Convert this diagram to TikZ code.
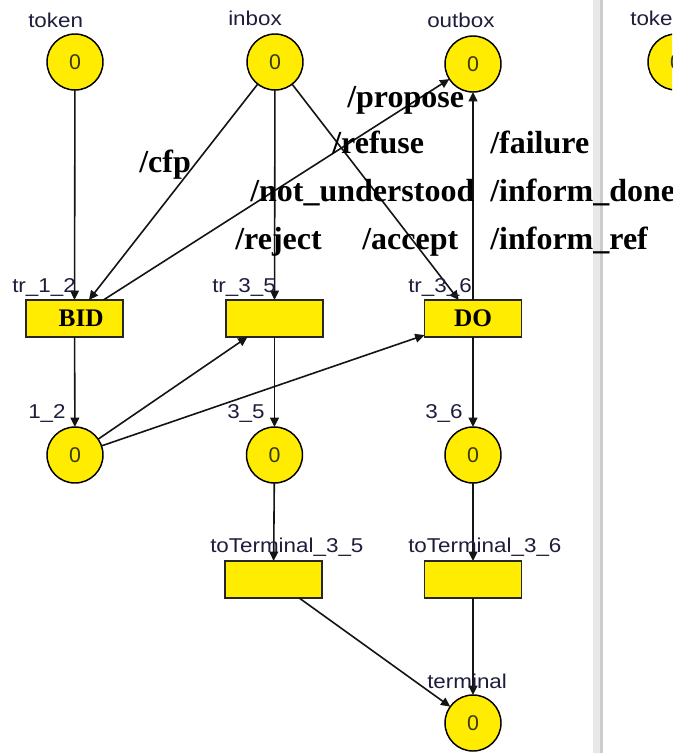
\documentclass[tikz,border=0pt]{standalone}
\usepackage{fontspec}
\setmainfont{Liberation Serif}
\newfontfamily\lblfont[FakeStretch=1.12]{Liberation Sans}
\newfontfamily\tokfont{Liberation Sans}
\usetikzlibrary{arrows.meta}
\definecolor{pnyellow}{RGB}{255,236,0}
\definecolor{lblcol}{RGB}{30,30,60}
\definecolor{tokcol}{RGB}{55,60,10}
\definecolor{arccol}{RGB}{20,20,20}
\begin{document}
\begin{tikzpicture}[x=0.75pt,y=-0.75pt,
  pnplace/.style={circle,draw=black,line width=1.1pt,fill=pnyellow,minimum size=42pt,inner sep=0pt,outer sep=0pt,font=\tokfont\fontsize{16}{16}\selectfont,text=tokcol},
  pntrans/.style={rectangle,draw=black!85,line width=1pt,fill=pnyellow,minimum width=72.75pt,minimum height=27.75pt,inner sep=0pt,outer sep=0pt,font=\bfseries\fontsize{19}{19}\selectfont},
  lbl/.style={anchor=base west,inner sep=0pt,font=\lblfont\fontsize{15}{15}\selectfont,text=lblcol},
  act/.style={anchor=base west,inner sep=0pt,font=\bfseries\fontsize{24}{24}\selectfont},
  pnarc/.style={draw=arccol,line width=1.2pt,-{Triangle[length=7pt,width=6.5pt]}}
]
\clip (0,0) rectangle (672,753);
\fill[white] (0,0) rectangle (672,753);
\fill[gray!18] (593,0) rectangle (600,753);
\fill[gray!40] (600,0) rectangle (603,753);

% places and transitions
\node[pnplace] (token) at (75,62) {0};
\node[pnplace] (inbox) at (275,62) {0};
\node[pnplace] (outbox) at (473,64) {0};
\node[pnplace] (tokenb) at (676,62) {0};
\node[pntrans] (BID) at (74.5,318.5) {\hspace*{10pt}BID};
\node[pntrans] (tr35) at (274.5,318.5) {};
\node[pntrans] (DO) at (473,318.5) {DO};
\node[pnplace] (p12) at (75,455) {0};
\node[pnplace] (p35) at (274.5,455) {0};
\node[pnplace] (p36) at (473,455) {0};
\node[pntrans] (tt35) at (273.5,579.5) {};
\node[pntrans] (tt36) at (473,579.5) {};
\node[pnplace] (term) at (473,723) {0};

% arcs
\draw[pnarc] (token) -- (BID);
\draw[pnarc] (inbox) -- (BID);
\draw[pnarc] (inbox) -- (tr35);
\draw[pnarc] (inbox) -- (DO);
\draw[pnarc] (BID) -- (outbox);
\draw[pnarc] (DO) -- (outbox);
\draw[pnarc] (BID) -- (p12);
\draw[pnarc] (p12) -- (tr35);
\draw[pnarc] (p12) -- (DO);
\draw[pnarc] (tr35) -- (p35);
\draw[pnarc] (DO) -- (p36);
\draw[pnarc] (p35) -- (tt35);
\draw[pnarc] (p36) -- (tt36);
\draw[pnarc] (tt35) -- (term);
\draw[pnarc] (tt36) -- (term);

% small labels
\node[lbl] (Ltoken) at (28,27) {token};
\node[lbl] (Linbox) at (228,25) {inbox};
\node[lbl] (Loutbox) at (427,27) {outbox};
\node[lbl] (Ltokenb) at (630,25) {token};
\node[lbl] (Ltr12) at (12,292) {tr\_1\_2};
\node[lbl] (Ltr35) at (212,292) {tr\_3\_5};
\node[lbl] (Ltr36) at (408,292) {tr\_3\_6};
\node[lbl] (L12) at (28,418) {1\_2};
\node[lbl] (L35) at (227,418) {3\_5};
\node[lbl] (L36) at (425,418) {3\_6};
\node[lbl] (Ltt35) at (210,552) {toTerminal\_3\_5};
\node[lbl] (Ltt36) at (408,552) {toTerminal\_3\_6};
\node[lbl] (Lterm) at (427,688) {terminal};

% action labels
\node[act] (Acfp) at (139,172) {/cfp};
\node[act] (Apropose) at (347,107) {/propose};
\node[act] (Arefuse) at (332,153) {/refuse};
\node[act] (Anot) at (250,201) {/not\_understood};
\node[act] (Areject) at (235,249) {/reject};
\node[act] (Aaccept) at (362,249) {/accept};
\node[act] (Afailure) at (490,153) {/failure};
\node[act] (Adone) at (490,201) {/inform\_done};
\node[act] (Aref) at (490,249) {/inform\_ref};
\end{tikzpicture}
\end{document}
